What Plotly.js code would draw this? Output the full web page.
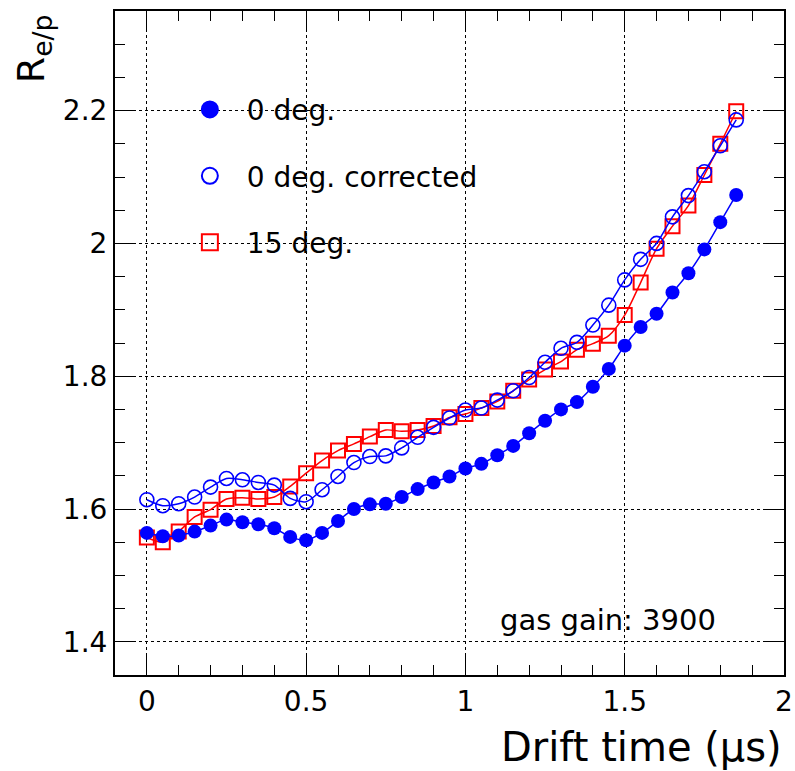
<!DOCTYPE html>
<html>
<head>
<meta charset="utf-8">
<script src="https://cdn.plot.ly/plotly-3.0.1.min.js"></script>
<style>html,body{margin:0;padding:0;background:#fff;}#chart{width:795px;height:771px;}</style>
</head>
<body>
<div id="chart"></div>
<script>
const driftTime = [0,0.05,0.1,0.15,0.2,0.25,0.3,0.35,0.4,0.45,0.5,0.55,0.6,0.65,0.7,0.75,0.8,0.85,0.9,0.95,1.0,1.05,1.1,1.15,1.2,1.25,1.3,1.35,1.4,1.45,1.5,1.55,1.6,1.65,1.7,1.75,1.8,1.85];
const deg0 = [1.564,1.559,1.560,1.566,1.575,1.584,1.580,1.577,1.571,1.558,1.553,1.564,1.582,1.600,1.607,1.608,1.618,1.630,1.640,1.649,1.661,1.668,1.681,1.695,1.714,1.733,1.750,1.761,1.784,1.811,1.846,1.874,1.894,1.926,1.955,1.991,2.032,2.073];
const deg0Corrected = [1.614,1.605,1.608,1.618,1.633,1.646,1.644,1.640,1.636,1.616,1.611,1.629,1.649,1.670,1.679,1.680,1.692,1.708,1.723,1.737,1.749,1.752,1.764,1.778,1.798,1.821,1.842,1.851,1.877,1.907,1.945,1.976,2.000,2.040,2.072,2.108,2.147,2.186];
const deg15 = [1.557,1.550,1.566,1.588,1.599,1.615,1.617,1.615,1.618,1.634,1.654,1.673,1.688,1.698,1.709,1.719,1.717,1.719,1.725,1.738,1.743,1.752,1.762,1.778,1.795,1.810,1.822,1.840,1.849,1.861,1.892,1.941,1.992,2.026,2.057,2.103,2.150,2.199];
const seriesNames = ["0 deg.", "0 deg. corrected", "15 deg."];
const xTickVals = [0,0.5,1,1.5,2];
const xTickText = ["0","0.5","1","1.5","2"];
const yTickVals = [1.4,1.6,1.8,2.0,2.2];
const yTickText = ["1.4","1.6","1.8","2","2.2"];

const BLUE = "#0000ff", RED = "#ff0000";
const FONT = "DejaVu Sans";

const lineTrace = (y, color, symbol, mline) => ({
  x: driftTime, y: y, type: "scatter", mode: "lines+markers", showlegend: false,
  line: {color: color, width: 1.5, shape: "spline", smoothing: 0.8},
  marker: {color: color, symbol: symbol, size: 14, line: {color: color, width: mline}},
  cliponaxis: false
});
const legendTrace = (name, color, symbol, group) => ({
  x: [null], y: [null], type: "scatter", mode: "markers", name: name, legendgroup: group,
  marker: {color: color, symbol: symbol, size: 19, line: {color: color, width: 2}}
});

const data = [
  lineTrace(deg15, RED, "square-open", 2),
  lineTrace(deg0Corrected, BLUE, "circle-open", 1.6),
  lineTrace(deg0, BLUE, "circle", 0),
  legendTrace(seriesNames[0], BLUE, "circle", "a"),
  legendTrace(seriesNames[1], BLUE, "circle-open", "b"),
  legendTrace(seriesNames[2], RED, "square-open", "c")
];

const axisCommon = {
  ticks: "inside", ticklen: 20, tickwidth: 1, tickcolor: "#000",
  mirror: "allticks", showline: true, linewidth: 2, linecolor: "#000",
  showgrid: true, gridcolor: "#000", griddash: "dot", gridwidth: 1,
  zeroline: false, tickfont: {family: FONT, size: 28, color: "#000"},
  tickmode: "array"
};

const layout = {
  width: 795, height: 771,
  margin: {l: 115, r: 11, t: 11, b: 96},
  paper_bgcolor: "#fff", plot_bgcolor: "#fff",
  font: {family: FONT, color: "#000"},
  xaxis: Object.assign({}, axisCommon, {
    range: [-0.1, 2.0], tickvals: xTickVals, ticktext: xTickText,
    minor: {dtick: 0.1, tick0: 0, ticks: "inside", ticklen: 10, tickwidth: 1, tickcolor: "#000", showgrid: false}
  }),
  yaxis: Object.assign({}, axisCommon, {
    range: [1.35, 2.35], tickvals: yTickVals, ticktext: yTickText,
    minor: {dtick: 0.05, tick0: 1.4, ticks: "inside", ticklen: 10, tickwidth: 1, tickcolor: "#000", showgrid: false}
  }),
  showlegend: true,
  legend: {
    x: 0.0865, y: 0.889, xanchor: "left", yanchor: "top",
    bgcolor: "rgba(0,0,0,0)", borderwidth: 0, itemwidth: 64,
    font: {family: FONT, size: 28, color: "#000"},
    traceorder: "grouped", tracegroupgap: 27
  },
  annotations: [
    {xref: "paper", yref: "paper", x: 1.0, y: -0.108, xanchor: "right", yanchor: "middle",
     text: "Drift time (μs)", showarrow: false, font: {family: FONT, size: 40, color: "#000"}},
    {xref: "paper", yref: "paper", x: -0.122, y: 0.998, xanchor: "center", yanchor: "top", textangle: -90,
     text: "R<sub>e/p</sub>", showarrow: false, font: {family: FONT, size: 38, color: "#000"}},
    {xref: "paper", yref: "paper", x: 0.901, y: 0.083, xanchor: "right", yanchor: "middle",
     text: "gas gain: 3900", showarrow: false, font: {family: FONT, size: 29, color: "#000"}}
  ]
};

Plotly.newPlot("chart", data, layout, {displayModeBar: false, staticPlot: true});
</script>
</body>
</html>
